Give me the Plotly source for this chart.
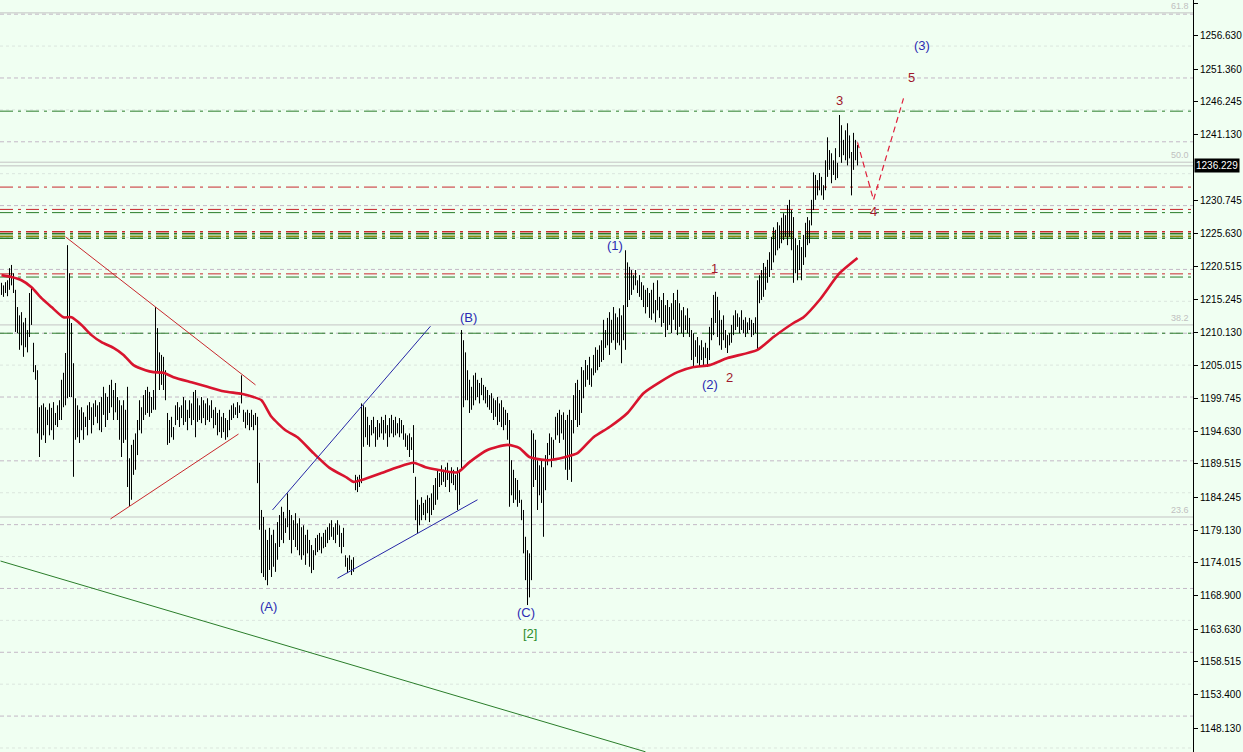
import plotly.graph_objects as go

# ---------------- data ----------------
highs = [
 1217.9,1217.5,1218.0,1218.3,1220.2,1220.7,1219.4,1216.8,1214.1,1212.8,
 1213.3,1211.7,1212.4,1210.5,1216.3,1217.2,1208.5,1205.0,1204.2,1198.4,
 1198.7,1199.0,1198.4,1198.0,1199.0,1198.3,1199.2,1197.5,1198.7,1199.5,
 1202.7,1203.8,1206.9,1223.8,1219.4,1211.6,1205.3,1199.8,1198.7,1198.0,
 1198.4,1197.6,1196.9,1198.7,1199.2,1198.4,1199.0,1199.5,1198.7,1199.2,
 1200.0,1201.6,1200.6,1200.0,1201.9,1202.7,1201.1,1202.2,1200.0,1199.5,
 1198.7,1199.5,1198.0,1201.6,1190.4,1192.5,1193.3,1194.3,1196.4,1199.5,
 1198.4,1200.3,1201.1,1201.6,1200.8,1200.0,1201.1,1214.1,1210.8,1207.0,
 1206.6,1206.3,1204.2,1197.5,1196.4,1196.9,1195.3,1198.7,1199.2,1198.4,
 1198.7,1200.0,1199.5,1198.0,1199.5,1199.0,1200.8,1201.1,1199.8,1198.7,
 1200.0,1199.5,1199.0,1199.8,1198.7,1199.5,1198.0,1198.4,1197.5,1198.0,
 1196.9,1197.5,1196.7,1196.4,1198.0,1198.7,1199.0,1198.4,1199.2,1198.7,
 1203.4,1198.0,1197.6,1198.0,1197.5,1198.0,1197.2,1197.5,1196.9,1189.7,
 1182.3,1181.2,1179.2,1177.6,1179.5,1178.4,1179.2,1177.1,1180.4,1181.5,
 1182.8,1182.0,1181.0,1184.9,1182.3,1181.5,1180.7,1181.8,1180.2,1181.0,
 1179.6,1179.9,1178.4,1179.2,1177.6,1176.8,1176.0,1177.9,1178.4,1178.7,
 1178.1,1178.7,1179.2,1179.6,1180.2,1180.7,1179.6,1180.2,1180.7,1179.9,
 1178.7,1179.5,1175.2,1174.8,1175.2,1174.5,1174.9,1187.8,1187.5,1187.8,
 1199.0,1198.7,1198.4,1196.9,1195.6,1196.4,1196.9,1195.3,1196.4,1195.9,
 1196.9,1196.4,1197.2,1195.6,1196.7,1197.2,1196.4,1196.9,1195.9,1196.7,
 1196.4,1195.6,1194.3,1194.0,1194.3,1193.7,1195.6,1187.5,1183.9,1183.1,
 1184.3,1183.4,1183.9,1184.6,1184.2,1184.9,1186.2,1187.3,1188.6,1188.1,
 1189.3,1188.6,1189.0,1189.7,1188.2,1189.0,1188.6,1187.8,1189.0,1188.6,
 1210.5,1208.9,1207.0,1204.2,1202.7,1201.6,1203.4,1203.8,1202.7,1202.2,
 1203.0,1201.9,1201.6,1201.1,1200.3,1200.6,1199.8,1199.5,1200.0,1199.0,
 1199.5,1198.4,1198.0,1197.5,1196.4,1190.1,1188.6,1187.3,1187.0,1185.4,
 1183.9,1182.3,1178.1,1176.0,1175.5,1194.8,1194.3,1193.3,1190.1,1189.3,
 1190.1,1189.0,1190.9,1192.8,1194.3,1193.7,1193.3,1196.9,1197.5,1198.0,
 1197.2,1197.6,1196.4,1197.2,1198.0,1196.4,1200.3,1202.2,1202.7,1201.1,
 1204.7,1204.2,1205.8,1205.0,1206.3,1204.5,1206.6,1207.8,1207.4,1208.1,
 1208.9,1212.1,1210.5,1212.4,1213.3,1212.1,1214.1,1213.1,1212.5,1213.9,
 1212.8,1214.4,1223.0,1221.1,1220.4,1219.9,1219.1,1219.9,1218.3,1219.1,
 1218.0,1217.5,1216.8,1217.1,1216.3,1216.8,1217.9,1215.2,1218.3,1215.7,
 1215.2,1216.3,1214.4,1215.2,1214.1,1214.7,1216.3,1215.2,1216.8,1214.7,
 1213.6,1214.1,1212.8,1213.9,1212.4,1210.5,1210.0,1208.9,1209.4,1208.1,
 1208.9,1207.8,1208.5,1207.7,1211.0,1212.4,1216.0,1216.5,1215.7,1213.6,
 1212.1,1212.8,1210.5,1209.7,1210.0,1211.3,1212.8,1213.6,1213.1,1212.5,
 1213.6,1212.1,1212.5,1211.7,1212.4,1212.1,1211.6,1212.5,1218.3,1219.1,
 1219.9,1221.0,1220.4,1221.5,1222.7,1225.1,1226.6,1226.2,1227.4,1226.9,
 1228.1,1228.8,1228.5,1230.1,1230.9,1229.3,1228.2,1224.9,1223.8,1224.6,
 1223.5,1225.4,1227.3,1228.2,1227.7,1230.9,1235.2,1234.8,1234.0,1235.1,
 1234.5,1233.2,1237.1,1240.7,1238.7,1238.2,1237.1,1239.0,1236.7,1244.2,
 1242.6,1240.3,1241.8,1242.9,1241.0,1238.4,1241.4,1240.3,1239.5]

lows = [
 1216.0,1215.7,1216.3,1215.8,1216.8,1217.5,1216.3,1210.2,1210.0,1207.4,
 1208.1,1206.3,1207.8,1207.0,1209.4,1211.3,1203.9,1202.7,1194.3,1190.6,
 1193.3,1194.0,1192.8,1195.6,1194.0,1194.8,1193.3,1195.6,1195.3,1196.4,
 1196.4,1198.4,1198.7,1199.8,1200.0,1200.0,1187.5,1193.3,1193.7,1192.8,
 1194.8,1193.3,1195.3,1194.0,1196.4,1194.3,1195.6,1196.9,1195.9,1194.8,
 1194.5,1197.2,1195.3,1196.4,1197.5,1198.4,1196.4,1197.6,1196.4,1193.3,
 1190.6,1192.8,1193.3,1185.9,1182.9,1183.9,1187.8,1188.6,1190.9,1194.8,
 1194.3,1196.4,1197.2,1197.5,1196.9,1197.5,1198.0,1198.0,1203.8,1201.1,
 1201.9,1201.1,1199.5,1192.5,1192.8,1193.7,1193.3,1195.6,1196.4,1195.3,
 1196.7,1195.6,1196.1,1194.8,1196.7,1195.6,1196.4,1193.7,1196.1,1196.4,
 1195.9,1196.7,1195.6,1196.4,1196.1,1196.7,1195.1,1195.6,1194.0,1194.5,
 1193.6,1194.5,1193.3,1193.7,1194.8,1196.4,1196.7,1197.2,1196.7,1197.5,
 1199.0,1196.1,1195.1,1195.6,1194.8,1195.3,1194.8,1195.6,1186.5,1179.2,
 1172.4,1171.8,1171.3,1170.5,1172.9,1171.8,1173.4,1172.6,1174.5,1176.5,
 1177.6,1177.1,1178.7,1179.6,1177.6,1175.5,1177.6,1176.5,1176.0,1175.2,
 1174.5,1175.2,1173.7,1175.5,1173.4,1172.4,1172.9,1175.2,1175.7,1176.0,
 1175.5,1176.3,1176.5,1177.1,1177.6,1178.1,1177.6,1177.1,1178.4,1176.5,
 1175.5,1176.5,1173.4,1172.4,1172.9,1172.1,1172.6,1185.4,1185.1,1185.9,
 1186.5,1192.2,1193.7,1192.5,1192.2,1194.0,1194.3,1192.2,1193.3,1193.7,
 1194.3,1193.3,1194.3,1192.2,1193.7,1194.3,1193.7,1194.0,1194.3,1193.7,
 1194.3,1193.3,1192.2,1191.7,1190.6,1191.7,1188.1,1180.7,1178.7,1179.9,
 1180.7,1181.5,1180.7,1181.8,1180.4,1181.5,1182.3,1183.1,1183.9,1185.9,
 1186.2,1186.7,1185.9,1187.0,1185.1,1186.5,1186.2,1185.4,1182.3,1183.1,
 1188.6,1198.4,1199.5,1199.5,1197.5,1198.0,1198.7,1199.5,1200.0,1199.0,
 1200.3,1199.5,1199.0,1198.4,1198.0,1197.5,1196.4,1196.9,1195.6,1196.1,
 1195.3,1194.8,1195.6,1193.3,1182.8,1184.6,1183.4,1183.9,1182.8,1183.4,
 1180.7,1175.5,1171.3,1167.4,1168.6,1171.3,1185.9,1187.0,1182.3,1184.6,
 1183.4,1178.1,1185.4,1189.3,1190.9,1189.0,1190.1,1193.3,1194.0,1192.8,
 1194.3,1193.3,1188.6,1187.0,1188.6,1186.7,1194.3,1196.4,1195.3,1195.6,
 1197.5,1199.8,1201.6,1202.7,1201.9,1201.6,1203.4,1203.8,1204.2,1204.7,
 1205.5,1205.8,1207.7,1208.1,1206.6,1208.5,1208.9,1207.4,1208.5,1208.1,
 1205.3,1208.9,1207.4,1214.1,1215.2,1216.0,1216.8,1217.5,1216.3,1215.7,
 1215.2,1214.1,1213.1,1214.1,1212.4,1212.1,1213.1,1211.7,1213.6,1212.4,
 1211.0,1211.6,1209.4,1210.5,1211.3,1210.0,1212.1,1210.5,1209.7,1211.0,
 1210.0,1209.4,1210.5,1210.0,1209.4,1205.8,1204.7,1206.3,1205.3,1204.7,
 1205.8,1205.0,1206.1,1204.7,1205.8,1208.9,1209.7,1211.6,1209.4,1208.1,
 1207.4,1208.9,1207.7,1206.9,1208.1,1208.5,1209.7,1210.5,1211.0,1210.0,
 1210.5,1210.0,1209.4,1210.0,1210.5,1209.4,1209.7,1210.0,1207.4,1214.7,
 1215.2,1215.7,1216.8,1217.9,1218.8,1219.9,1221.1,1222.2,1223.0,1223.3,
 1224.1,1224.6,1225.1,1223.8,1225.1,1223.0,1217.9,1219.4,1218.3,1219.9,
 1218.3,1220.7,1221.9,1223.8,1224.1,1226.9,1229.3,1230.9,1231.6,1232.4,
 1231.6,1230.9,1232.4,1234.5,1235.6,1233.5,1234.8,1234.0,1234.3,1237.6,
 1236.7,1237.9,1237.1,1236.3,1237.4,1231.6,1235.6,1237.1,1236.3]

# moving average, read at selected bars
ma_idx = [0,5,10,15,20,25,31,35,40,45,50,56,61,66,72,76,81,86,95,103,
          111,120,126,130,135,142,148,156,164,173,176,180,190,198,206,212,218,228,234,243,
          253,259,264,273,282,288,296,304,313,321,329,338,346,354,363,378,386,396,401,409,
          419,428]
ma_val = [1219.1,1218.8,1218.3,1217.2,1215.5,1214.1,1212.5,1212.5,1211.3,1209.7,
          1208.6,1207.7,1206.6,1205.0,1204.2,1203.9,1203.8,1203.1,1202.3,1201.6,
          1200.9,1200.5,1200.0,1199.5,1196.9,1194.8,1193.7,1191.2,1188.9,1187.3,
          1186.7,1187.0,1188.1,1189.0,1189.7,1189.0,1188.6,1188.2,1189.8,1191.7,
          1192.5,1192.0,1190.6,1190.1,1190.6,1191.2,1193.7,1195.3,1197.5,1200.6,
          1202.3,1203.9,1204.7,1205.0,1206.1,1207.4,1209.4,1211.6,1212.5,1215.2,
          1219.4,1221.8]

tick_vals = [1261.745,1256.630,1251.360,1246.245,1241.130,1230.745,1225.630,1220.515,
             1215.245,1210.130,1205.015,1199.745,1194.630,1189.515,1184.245,1179.130,
             1174.015,1168.900,1163.630,1158.515,1153.400,1148.130]
tick_text = ["%.3f" % v for v in tick_vals]
last_price = 1236.229

grid_major = [1150,1160,1170,1180,1190,1200,1210,1220,1230,1240,1250,1260]
grid_minor = [1145,1155,1165,1175,1185,1195,1205,1215,1225,1235,1245,1255]

# horizontal dash-dot levels: (price, colour key, width)
levels = [(1244.8,"g",1),(1232.9,"r",1),(1229.4,"r",1),(1228.9,"g",1),
          (1225.9,"r",1.5),(1225.6,"g",1.5),(1225.2,"o",1.5),(1224.9,"g",1.5),
          (1219.3,"r",1),(1218.8,"g",1),(1210.0,"g",1)]
fib_levels = [(1260.2,"61.8"),(1236.8,"50.0"),(1211.3,"38.2"),(1181.2,"23.6")]

# trend lines: (x0, y0, x1, y1, colour key)
trend_lines = [(32,1225.1,127,1201.9,"r"),(54.5,1180.9,118.5,1194.2,"r"),
               (135.5,1182.3,214.5,1211.1,"b"),(168,1171.6,238,1183.9,"b"),
               (-0.5,1174.3,322,1144.4,"g")]
proj_x = [428,436,451]
proj_y = [1239.9,1230.9,1246.8]

wave_labels = [("(3)",460,1255.1,"b"),("5",455,1250.1,"r"),("3",419,1246.5,"r"),
               ("4",436,1229.0,"r"),("(1)",306.5,1223.7,"b"),("1",356.5,1220.2,"r"),
               ("(2)",354,1201.9,"b"),("2",364,1203.1,"r"),("(B)",233.5,1212.4,"b"),
               ("(A)",133.5,1167.2,"b"),("(C)",262,1166.3,"b"),("[2]",264,1163.0,"g")]

COL = {"r":"#c8282d","g":"#2a7d2a","b":"#2626a6","o":"#8a8a10"}
LBL = {"r":"#a0182c","g":"#2c8c2c","b":"#2b2bb3"}
BG = "#f0fff2"

# ---------------- figure ----------------
fig = go.Figure()

bx, by = [], []
for i, (h, l) in enumerate(zip(highs, lows)):
    bx += [i, i, None]
    by += [l, h, None]
fig.add_trace(go.Scatter(x=bx, y=by, mode="lines", line=dict(color="#000000", width=1),
                         hoverinfo="skip"))

fig.add_trace(go.Scatter(x=ma_idx, y=ma_val, mode="lines",
                         line=dict(color="#d8142e", width=2.6, shape="spline", smoothing=0.6),
                         hoverinfo="skip"))

for x0, y0, x1, y1, c in trend_lines:
    fig.add_trace(go.Scatter(x=[x0, x1], y=[y0, y1], mode="lines",
                             line=dict(color=COL[c], width=1), hoverinfo="skip"))

fig.add_trace(go.Scatter(x=proj_x, y=proj_y, mode="lines",
                         line=dict(color="#e0203c", width=1.2, dash="6px,4px"), hoverinfo="skip"))

shapes = []
for v in grid_minor:
    shapes.append(dict(type="line", xref="paper", x0=0, x1=1, yref="y", y0=v, y1=v,
                       line=dict(color="#dbe6de", width=1, dash="3px,3px"), layer="below"))
for v in grid_major:
    shapes.append(dict(type="line", xref="paper", x0=0, x1=1, yref="y", y0=v, y1=v,
                       line=dict(color="#c3b8c6", width=1, dash="4px,3px"), layer="below"))
for v, t in fib_levels:
    shapes.append(dict(type="line", xref="paper", x0=0, x1=1, yref="y", y0=v, y1=v,
                       line=dict(color="#c4c4c4", width=1), layer="below"))
shapes.append(dict(type="line", xref="paper", x0=0, x1=1, yref="y", y0=last_price, y1=last_price,
                   line=dict(color="#c0c0c0", width=1), layer="below"))
for v, c, w in levels:
    shapes.append(dict(type="line", xref="paper", x0=0, x1=1, yref="y", y0=v, y1=v,
                       line=dict(color=COL[c], width=w, dash="13px,5px,3px,5px"), layer="below"))

annotations = []
for txt, x, y, c in wave_labels:
    annotations.append(dict(x=x, y=y, xref="x", yref="y", text=txt, showarrow=False,
                            font=dict(family="Liberation Sans, Arial", size=13, color=LBL[c])))
for v, t in fib_levels:
    annotations.append(dict(x=0.998, y=v, xref="paper", yref="y", text=t, showarrow=False,
                            xanchor="right", yanchor="bottom",
                            font=dict(family="Liberation Sans, Arial", size=9, color="#c0c0c0")))
annotations.append(dict(x=1.0, y=last_price, xref="paper", yref="y", text="%.3f" % last_price,
                        showarrow=False, xanchor="left", yanchor="middle", xshift=1,
                        bgcolor="#000000", borderpad=1,
                        font=dict(family="Liberation Sans, Arial", size=10, color="#ffffff")))

fig.update_layout(
    width=1243, height=752,
    margin=dict(l=0, r=50, t=0, b=0),
    paper_bgcolor=BG, plot_bgcolor=BG,
    showlegend=False,
    shapes=shapes, annotations=annotations,
    xaxis=dict(range=[-0.75, 595.75], visible=False, fixedrange=True),
    yaxis=dict(range=[1144.37, 1262.22], side="right", showgrid=False, zeroline=False,
               tickvals=tick_vals, ticktext=tick_text, ticks="outside", ticklen=4,
               tickcolor="#000000", showline=True, linecolor="#000000", linewidth=1,
               tickfont=dict(family="Liberation Sans, Arial", size=10, color="#000000"),
               fixedrange=True),
)

fig.write_html("out.html", config={"displayModeBar": False},
               post_script="document.body.style.margin='0';document.body.style.overflow='hidden';"
                           "document.body.style.background='" + BG + "';")
